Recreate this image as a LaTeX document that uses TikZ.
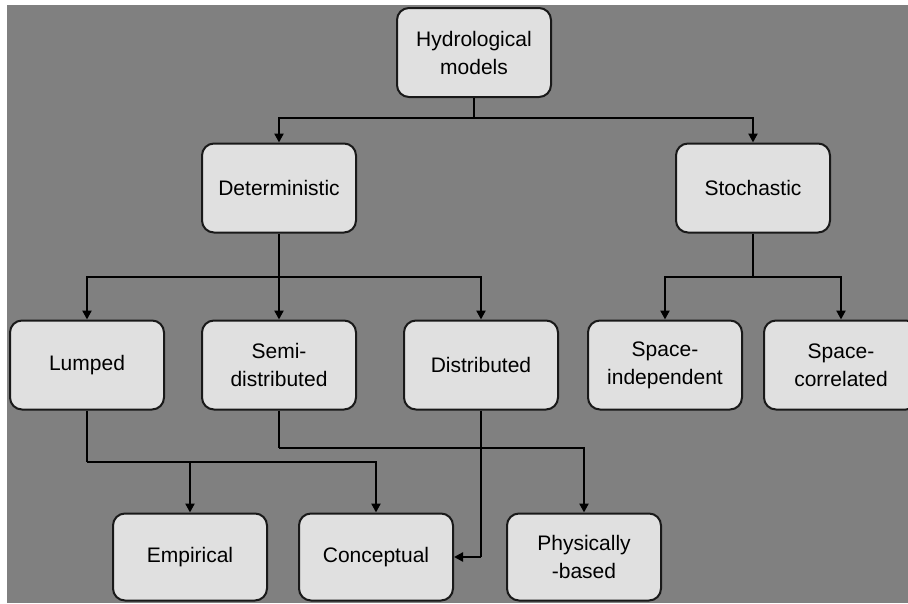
\documentclass[tikz,border=0pt]{standalone}
\usepackage{fontspec}
\setmainfont{Liberation Sans}
\usepackage{tikz}
\usetikzlibrary{arrows.meta, positioning}
\definecolor{panel}{HTML}{808080}
\definecolor{boxfill}{HTML}{E0E0E0}
\tikzset{
  modelbox/.style={draw=black!90, line width=2pt, fill=boxfill, rounded corners=12pt,
    minimum width=154pt, minimum height=89pt, align=center, inner sep=0pt,
    font=\fontsize{21}{28}\selectfont},
  lowbox/.style={modelbox, minimum height=87pt},
  conn/.style={line width=2.8pt, black},
  arr/.style={conn, -{Triangle[length=9pt,width=9pt]}}
}

\begin{document}
\begin{tikzpicture}[x=1pt, y=-1pt]
  % page with grey panel, pixel coordinates from top left
  \fill[white] (0,0) rectangle (908,603);
  \useasboundingbox (0,0) rectangle (908,603);
  \clip (0,0) rectangle (908,603);
  \fill[panel] (7,5) rectangle (908,603);

  \node[modelbox] (hydro)  at (474,52.5) {Hydrological\\models};
  \node[modelbox] (determ) at (279,188)  {Deterministic};
  \node[modelbox] (stoch)  at (753,188)  {Stochastic};

  \node[modelbox] (lumped) at (87,365)  {Lumped};
  \node[modelbox] (semi)   at (279,365) {Semi-\\distributed};
  \node[modelbox] (distr)  at (481,365) {Distributed};
  \node[modelbox] (spind)  at (665,365) {Space-\\independent};
  \node[modelbox] (spcor)  at (841,365) {Space-\\correlated};

  \node[lowbox] (empir)   at (190,557) {Empirical};
  \node[lowbox] (concept) at (376,557) {Conceptual};
  \node[lowbox] (phys)    at (584,557) {Physically\\-based};

  \coordinate (jtop) at (474,118);
  \coordinate (jdet) at (279,277);
  \coordinate (jsto) at (753,277);
  \coordinate (jlum) at (87,462);
  \coordinate (jsem) at (279,448);
  \coordinate (jdis) at (481,557);

  \draw[conn] (hydro) -- (jtop);
  \draw[arr] (jtop) -| (determ);
  \draw[arr] (jtop) -| (stoch);

  \draw[conn] (determ) -- (jdet);
  \draw[arr] (jdet) -| (lumped);
  \draw[arr] (jdet) -- (semi);
  \draw[arr] (jdet) -| (distr);

  \draw[conn] (stoch) -- (jsto);
  \draw[arr] (jsto) -| (spind);
  \draw[arr] (jsto) -| (spcor);

  \draw[conn] (lumped) -- (jlum);
  \draw[arr] (jlum) -| (empir);
  \draw[arr] (jlum) -| (concept);
  \draw[conn] (semi) -- (jsem);
  \draw[arr] (jsem) -| (phys);
  \draw[conn] (distr) -- (jdis);
  \draw[arr] (jdis) -- (concept);
\end{tikzpicture}
\end{document}
